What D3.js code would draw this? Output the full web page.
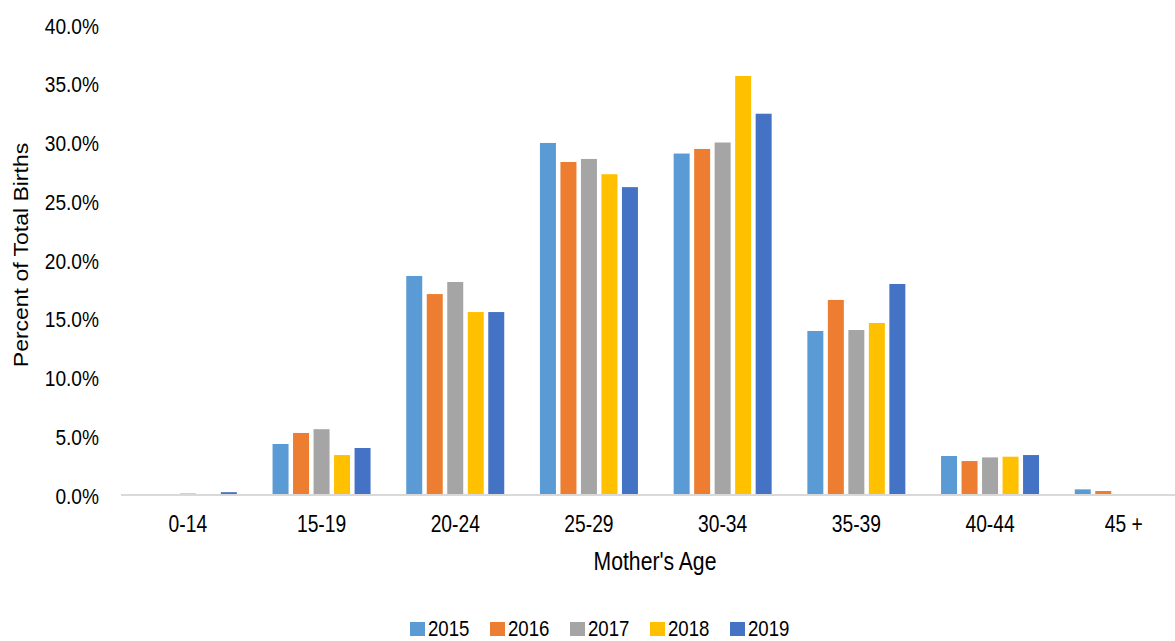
<!DOCTYPE html>
<html>
<head>
<meta charset="utf-8">
<script src="https://cdn.jsdelivr.net/npm/d3@7"></script>
<style>
  html, body { margin: 0; padding: 0; background: #fff; }
  svg { display: block; font-family: "Liberation Sans", Arial, sans-serif; }
</style>
</head>
<body>
<svg id="chart" width="1175" height="641"></svg>
<script>
const categories = ["0-14", "15-19", "20-24", "25-29", "30-34", "35-39", "40-44", "45 +"];
const years = ["2015", "2016", "2017", "2018", "2019"];
const values2015 = [0.04, 4.34, 18.64, 29.96, 29.06, 13.96, 3.32, 0.48];
const values2016 = [0.02, 5.28, 17.10, 28.34, 29.45, 16.60, 2.89, 0.34];
const values2017 = [0.13, 5.60, 18.13, 28.60, 30.00, 14.04, 3.20, 0.06];
const values2018 = [0.02, 3.40, 15.57, 27.30, 35.66, 14.64, 3.26, 0.05];
const values2019 = [0.24, 4.00, 15.57, 26.20, 32.45, 17.96, 3.40, 0.07];
const yTicks = [0, 5, 10, 15, 20, 25, 30, 35, 40];
const colors = ["#5B9BD5", "#ED7D31", "#A5A5A5", "#FFC000", "#4472C4"];

const seriesValues = [values2015, values2016, values2017, values2018, values2019];

const svg = d3.select("#chart");

const y = d3.scaleLinear().domain([0, 40]).range([495, 25]);
const x0 = d3.scaleBand().domain(categories).range([121, 1190.6]).padding(0);
const half = x0.bandwidth() / 2;
const x1 = d3.scaleBand().domain(years).range([half - 49, half + 49]).paddingInner(0.22).paddingOuter(0);
const color = d3.scaleOrdinal().domain(years).range(colors);

// bars
const groups = svg.append("g").selectAll("g")
  .data(categories)
  .join("g")
  .attr("transform", d => `translate(${x0(d)},0)`);

groups.selectAll("rect")
  .data((c, i) => years.map((yr, j) => ({ year: yr, value: seriesValues[j][i] })))
  .join("rect")
  .attr("x", d => x1(d.year))
  .attr("width", x1.bandwidth())
  .attr("y", d => y(d.value))
  .attr("height", d => y(0) - y(d.value))
  .attr("fill", d => color(d.year));

// x axis line
svg.append("line")
  .attr("x1", x0.range()[0]).attr("x2", 1175)
  .attr("y1", y(0)).attr("y2", y(0))
  .attr("stroke", "#d9d9d9").attr("stroke-width", 2);

// helper for condensed text
function ctext(g, x, yy, txt, size, sx, anchor) {
  return g.append("text")
    .attr("transform", `translate(${x},${yy}) scale(${sx},1)`)
    .attr("text-anchor", anchor)
    .attr("font-size", size)
    .attr("fill", "#000")
    .text(txt);
}

// y axis tick labels
const yAxis = svg.append("g").attr("transform", "translate(99,0)")
  .call(d3.axisLeft(y).tickValues(yTicks).tickSize(0).tickFormat(d => d3.format(".1f")(d) + "%"));
yAxis.select(".domain").remove();
yAxis.selectAll("text")
  .attr("x", 0).attr("dy", null).attr("y", 0)
  .attr("font-size", 22)
  .attr("font-family", "Liberation Sans, Arial, sans-serif")
  .attr("fill", "#000")
  .attr("text-anchor", "end")
  .attr("transform", "translate(0,8) scale(0.87,1)");

// x axis tick labels
const xAxis = svg.append("g").attr("transform", `translate(0,${y(0)})`)
  .call(d3.axisBottom(x0).tickSize(0));
xAxis.select(".domain").remove();
xAxis.selectAll("text")
  .attr("y", 0).attr("dy", null).attr("x", 0)
  .attr("font-size", 23.5)
  .attr("font-family", "Liberation Sans, Arial, sans-serif")
  .attr("fill", "#000")
  .attr("text-anchor", "middle")
  .attr("transform", "translate(0,36.5) scale(0.82,1)");

// axis titles
ctext(svg, 655, 570, "Mother's Age", 25.5, 0.83, "middle");
svg.append("text")
  .attr("transform", "translate(28,255) rotate(-90) scale(1,0.84)")
  .attr("text-anchor", "middle")
  .attr("font-size", 23)
  .attr("fill", "#000")
  .text("Percent of Total Births");

// legend
const legend = svg.append("g");
years.forEach((yr, j) => {
  const lx = 410 + j * 80;
  legend.append("rect")
    .attr("x", lx).attr("y", 622)
    .attr("width", 15).attr("height", 14)
    .attr("fill", color(yr));
  ctext(legend, lx + 18, 636, yr, 23, 0.81, "start");
});
</script>
</body>
</html>
